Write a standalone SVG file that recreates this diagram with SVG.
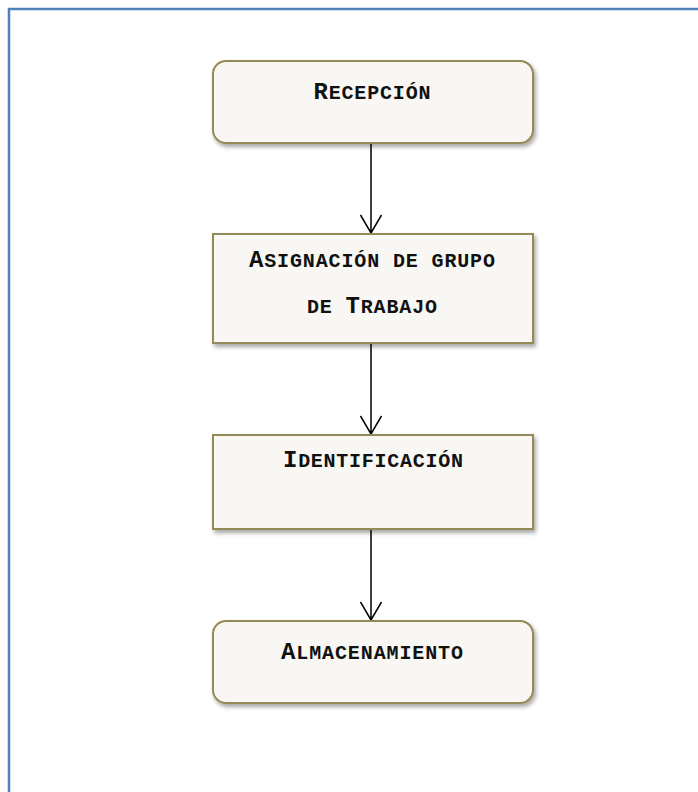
<svg xmlns="http://www.w3.org/2000/svg" width="698" height="792" viewBox="0 0 698 792">
<style>
.box{fill:#F8F7F3;stroke:#948A54;stroke-width:2}
.lbl{font-family:"Liberation Mono","Courier New",monospace;font-weight:bold;fill:#111;text-anchor:middle}
.big{font-size:24px}
.sm{font-size:20px}
.conn{stroke:#000;stroke-width:1.5;fill:none}
.frame{stroke:#4F81BD;stroke-width:2.5;fill:none}
</style>
<defs>
<filter id="sh" x="-10%" y="-10%" width="130%" height="140%">
<feDropShadow dx="2" dy="3" stdDeviation="2" flood-color="#000" flood-opacity="0.35"/>
</filter>
</defs>
<path class="frame" d="M9,792 V9 H698"/>
<g id="connectors">
<path class="conn" d="M371,143 V233 M360.5,215 L371,233 L381.5,215"/>
<path class="conn" d="M371,343 V434 M360.5,416 L371,434 L381.5,416"/>
<path class="conn" d="M371,529 V620 M360.5,602 L371,620 L381.5,602"/>
</g>
<g id="recepcion">
<rect class="box" x="213" y="61" width="320" height="82" rx="13" filter="url(#sh)"/>
<text class="lbl" x="372" y="99" textLength="117" lengthAdjust="spacing"><tspan class="big">R</tspan><tspan class="sm">ECEPCIÓN</tspan></text>
</g>
<g id="asignacion">
<rect class="box" x="213" y="234" width="320" height="109" filter="url(#sh)"/>
<text class="lbl" x="372" y="267" textLength="246" lengthAdjust="spacing"><tspan class="big">A</tspan><tspan class="sm">SIGNACIÓN DE GRUPO</tspan></text>
<text class="lbl" x="372" y="313" textLength="130" lengthAdjust="spacing"><tspan class="sm">DE </tspan><tspan class="big">T</tspan><tspan class="sm">RABAJO</tspan></text>
</g>
<g id="identificacion">
<rect class="box" x="213" y="435" width="320" height="94" filter="url(#sh)"/>
<text class="lbl" x="373" y="467" textLength="180" lengthAdjust="spacing"><tspan class="big">I</tspan><tspan class="sm">DENTIFICACIÓN</tspan></text>
</g>
<g id="almacenamiento">
<rect class="box" x="213" y="621" width="320" height="82" rx="13" filter="url(#sh)"/>
<text class="lbl" x="372" y="659" textLength="182" lengthAdjust="spacing"><tspan class="big">A</tspan><tspan class="sm">LMACENAMIENTO</tspan></text>
</g>
</svg>
